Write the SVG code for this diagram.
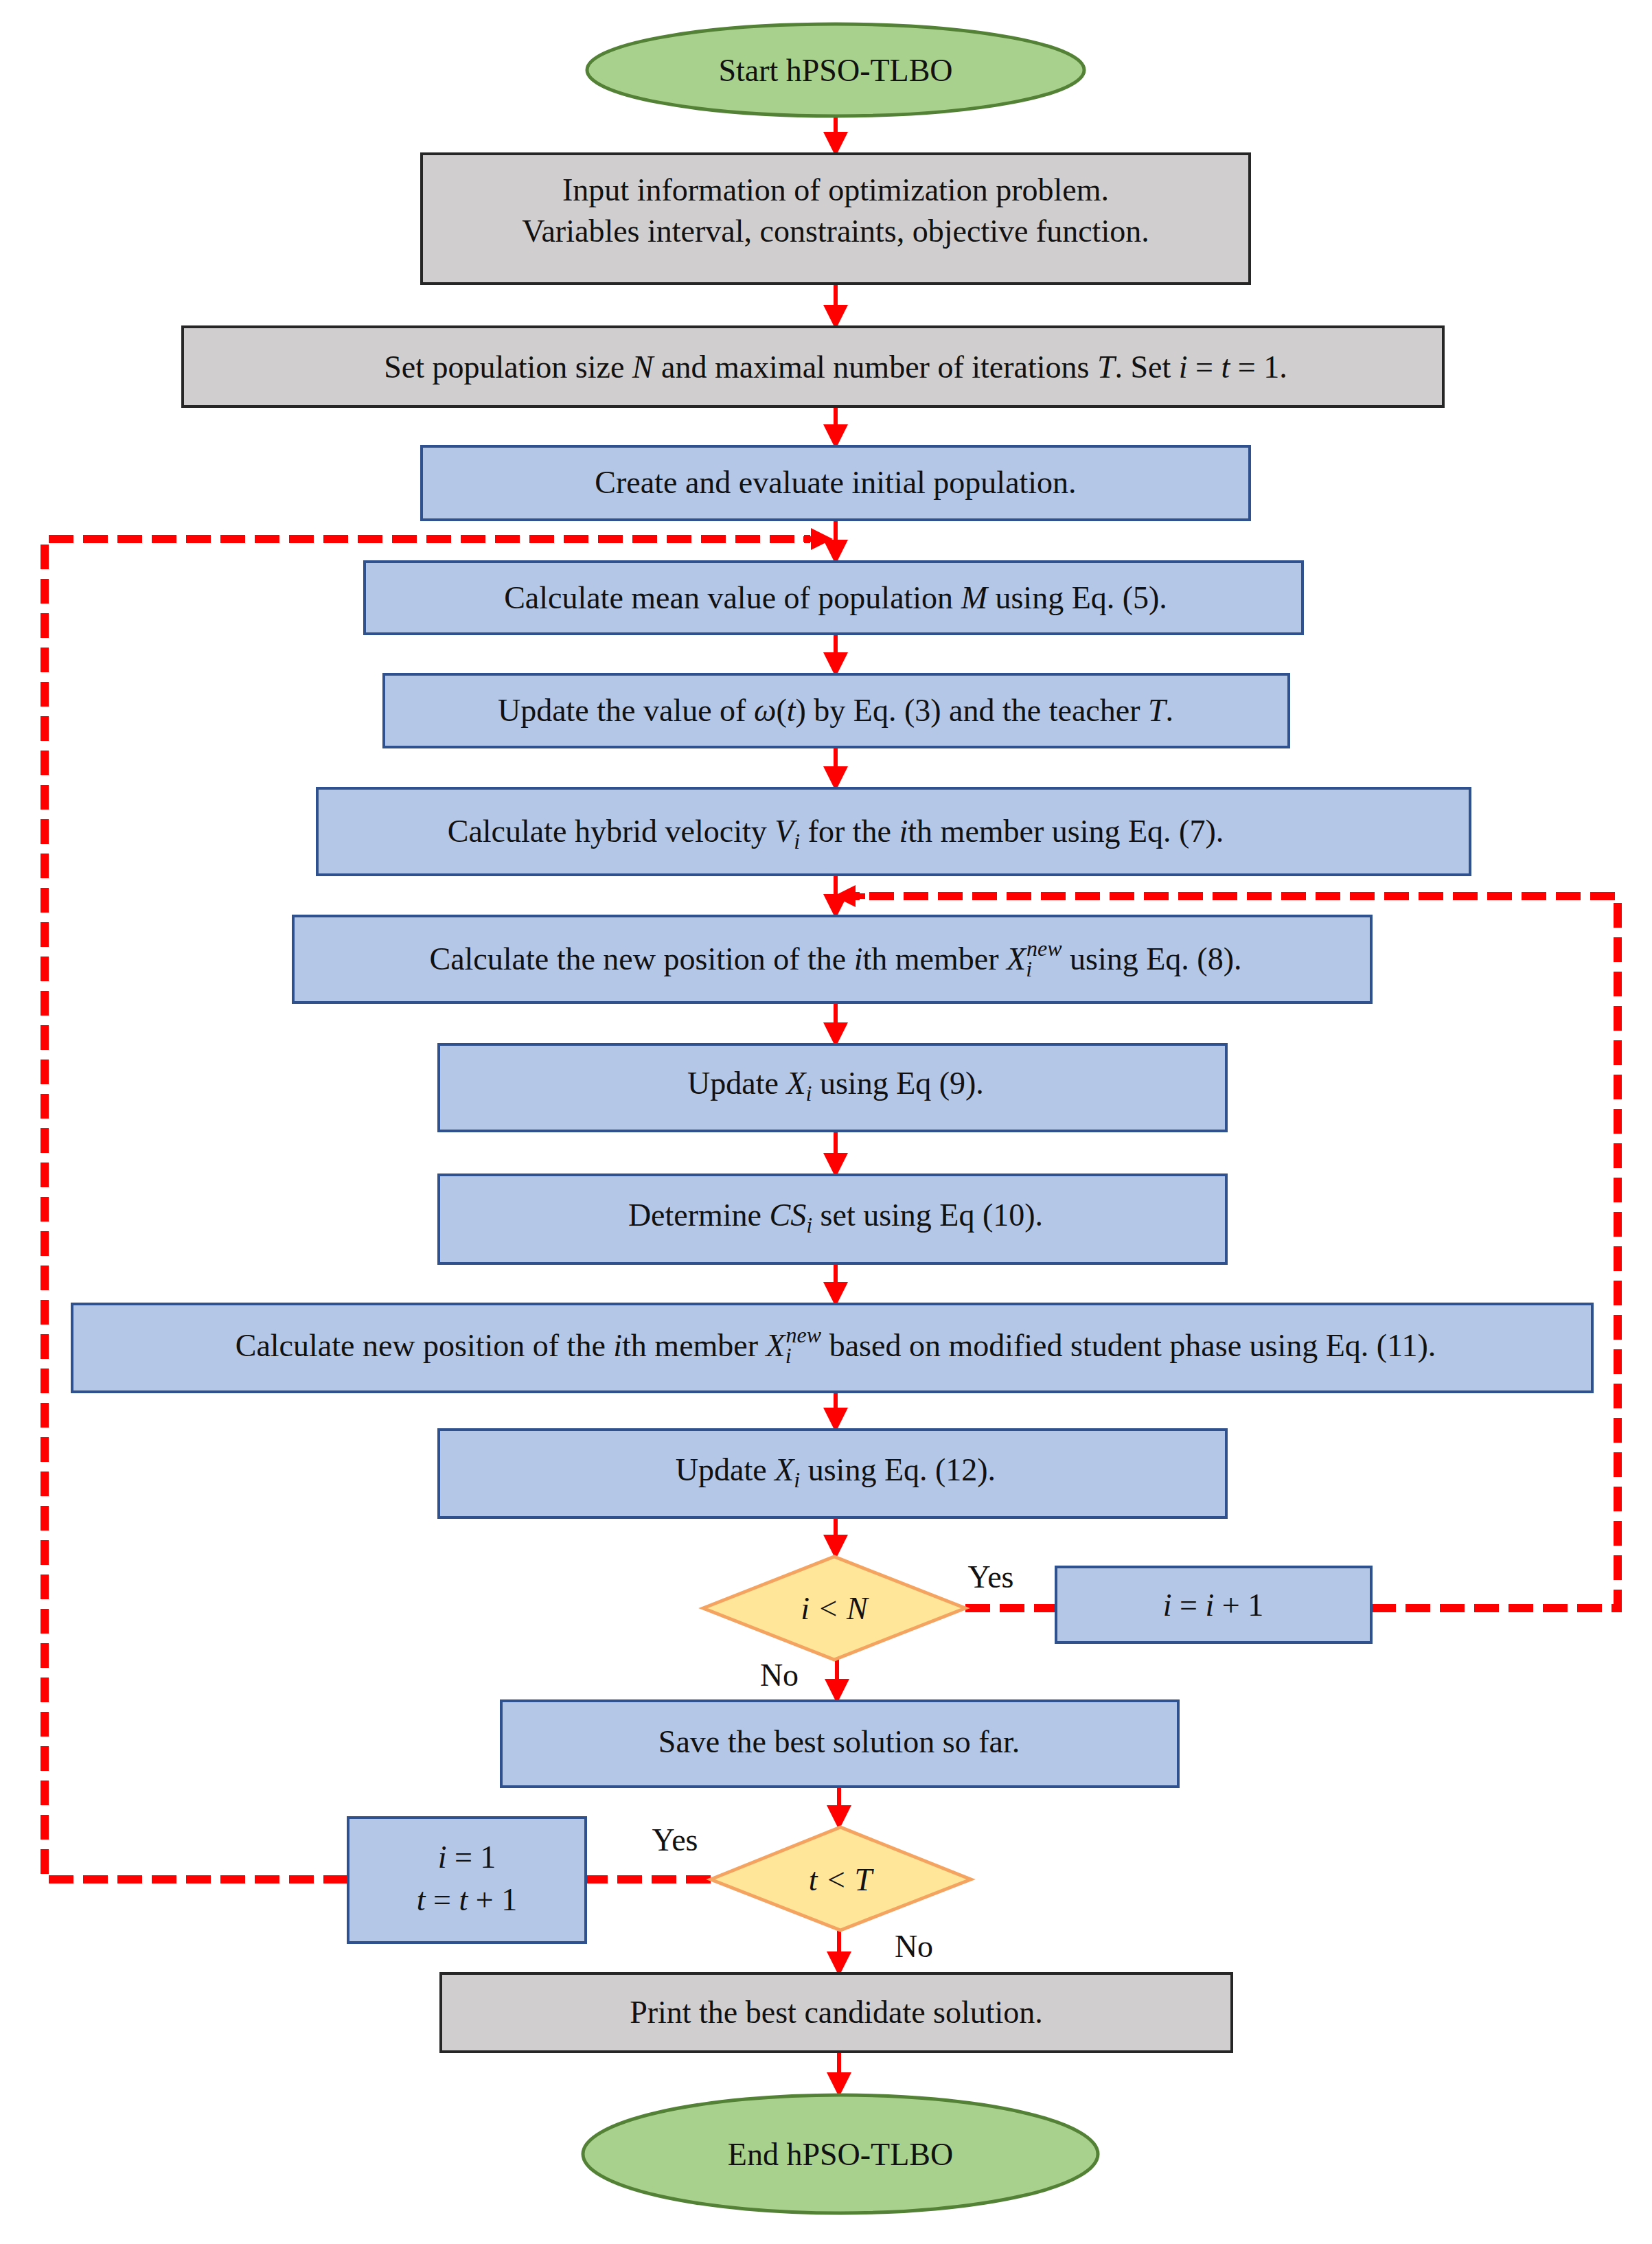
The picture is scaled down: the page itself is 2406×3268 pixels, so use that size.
<svg xmlns="http://www.w3.org/2000/svg" width="2406" height="3268" viewBox="0 0 2406 3268">
<style>
.b{fill:#b4c7e7;stroke:#2f528f;stroke-width:4}
.g{fill:#d0cece;stroke:#262626;stroke-width:4}
.e{fill:#a9d18e;stroke:#538135;stroke-width:5}
.d{fill:#ffe699;stroke:#f4a460;stroke-width:5}
text{font-family:"Liberation Serif","Times New Roman",serif;font-size:46px;fill:#111;text-anchor:middle}
.i{font-style:italic}
.s{font-size:32px}
.a{stroke:#ff0000;stroke-width:6;fill:none;marker-end:url(#ah)}
.dl{stroke:#ff0000;stroke-width:12;fill:none;stroke-dasharray:36 14}
</style>
<defs>
<marker id="ah" markerWidth="6" markerHeight="6" refX="5" refY="3" orient="auto" markerUnits="strokeWidth"><path d="M0,0L6,3L0,6z" fill="#ff0000"/></marker>
<marker id="ah2" markerWidth="4" markerHeight="4" refX="3" refY="2" orient="auto" markerUnits="strokeWidth"><path d="M0,0L4,2L0,4z" fill="#ff0000"/></marker>
</defs>
<g id="connectors">
<path class="a" d="M1217,170V222"/>
<path class="a" d="M1217,413V474"/>
<path class="a" d="M1217,592V648"/>
<path class="a" d="M1217,757V816"/>
<path class="a" d="M1217,923V980"/>
<path class="a" d="M1217,1088V1146"/>
<path class="a" d="M1217,1274V1332"/>
<path class="a" d="M1217,1460V1519"/>
<path class="a" d="M1217,1647V1709"/>
<path class="a" d="M1217,1840V1897"/>
<path class="a" d="M1217,2027V2080"/>
<path class="a" d="M1217,2210V2265"/>
<path class="a" d="M1219,2417V2475"/>
<path class="a" d="M1222,2602V2659"/>
<path class="a" d="M1222,2811V2872"/>
<path class="a" d="M1222,2988V3048"/>
<path class="dl" d="M1406,2342H1538"/>
<path class="dl" d="M1997,2342H2356V1305H1240"/>
<path d="M1260,1305H1222" stroke="#ff0000" stroke-width="8" marker-end="url(#ah2)"/>
<path class="dl" d="M1035,2737H853"/>
<path class="dl" d="M507,2737H65V785H1180"/>
<path d="M1170,785H1205" stroke="#ff0000" stroke-width="8" marker-end="url(#ah2)"/>
<text x="1443" y="2312">Yes</text>
<text x="1135" y="2455">No</text>
<text x="983" y="2695">Yes</text>
<text x="1331" y="2850">No</text>
</g>
<g id="start"><ellipse class="e" cx="1217" cy="102" rx="362" ry="67"/><text x="1217" y="118">Start hPSO-TLBO</text></g>
<g id="input"><rect class="g" x="614" y="224" width="1206" height="189"/><text x="1217" y="292">Input information of optimization problem.</text><text x="1217" y="352">Variables interval, constraints, objective function.</text></g>
<g id="set"><rect class="g" x="266" y="476" width="1836" height="116"/><text x="1217" y="550">Set population size <tspan class="i">N</tspan> and maximal number of iterations <tspan class="i">T</tspan>. Set  <tspan class="i">i</tspan> = <tspan class="i">t</tspan> = 1.</text></g>
<g id="create"><rect class="b" x="614" y="650" width="1206" height="107"/><text x="1217" y="718">Create and evaluate initial population.</text></g>
<g id="mean"><rect class="b" x="531" y="818" width="1366" height="105"/><text x="1217" y="886">Calculate mean value of population <tspan class="i">M</tspan> using Eq. (5).</text></g>
<g id="omega"><rect class="b" x="559" y="982" width="1318" height="106"/><text x="1217" y="1050">Update the value of  <tspan class="i">ω</tspan>(<tspan class="i">t</tspan>) by Eq. (3) and the teacher <tspan class="i">T</tspan>.</text></g>
<g id="hybrid"><rect class="b" x="462" y="1148" width="1679" height="126"/><text x="1217" y="1226">Calculate hybrid velocity <tspan class="i">V</tspan><tspan class="i s" dy="10">i</tspan><tspan dy="-10"> for the </tspan><tspan class="i">i</tspan>th member using Eq. (7).</text></g>
<g id="newpos"><rect class="b" x="427" y="1334" width="1570" height="126"/><text x="1217" y="1412">Calculate the new position of the <tspan class="i">i</tspan>th member <tspan class="i">X</tspan><tspan class="i s" dy="10">i</tspan><tspan class="i s" dx="-8" dy="-30">new</tspan><tspan dy="20"> using Eq. (8).</tspan></text></g>
<g id="upd9"><rect class="b" x="639" y="1521" width="1147" height="126"/><text x="1217" y="1593">Update <tspan class="i">X</tspan><tspan class="i s" dy="10">i</tspan><tspan dy="-10"> using Eq (9).</tspan></text></g>
<g id="det"><rect class="b" x="639" y="1711" width="1147" height="129"/><text x="1217" y="1785">Determine <tspan class="i">CS</tspan><tspan class="i s" dy="10">i</tspan><tspan dy="-10"> set using Eq (10).</tspan></text></g>
<g id="calc11"><rect class="b" x="105" y="1899" width="2214" height="128"/><text x="1217" y="1975">Calculate new position of the <tspan class="i">i</tspan>th member <tspan class="i">X</tspan><tspan class="i s" dy="10">i</tspan><tspan class="i s" dx="-8" dy="-30">new</tspan><tspan dy="20"> based on modified student phase using Eq. (11).</tspan></text></g>
<g id="upd12"><rect class="b" x="639" y="2082" width="1147" height="128"/><text x="1217" y="2156">Update <tspan class="i">X</tspan><tspan class="i s" dy="10">i</tspan><tspan dy="-10"> using Eq. (12).</tspan></text></g>
<g id="dN"><path class="d" d="M1024,2342L1215,2267L1406,2342L1215,2417Z"/><text x="1215" y="2358" class="i">i &lt; N</text></g>
<g id="inc"><rect class="b" x="1538" y="2282" width="459" height="110"/><text x="1767" y="2353"><tspan class="i">i</tspan> = <tspan class="i">i</tspan> + 1</text></g>
<g id="save"><rect class="b" x="730" y="2477" width="986" height="125"/><text x="1222" y="2552">Save the best solution so far.</text></g>
<g id="reset"><rect class="b" x="507" y="2647" width="346" height="182"/><text x="680" y="2720"><tspan class="i">i</tspan> = 1</text><text x="680" y="2782"><tspan class="i">t</tspan> = <tspan class="i">t</tspan> + 1</text></g>
<g id="dT"><path class="d" d="M1035,2737L1224,2661L1414,2737L1224,2811Z"/><text x="1224" y="2753" class="i">t &lt; T</text></g>
<g id="print"><rect class="g" x="642" y="2874" width="1152" height="114"/><text x="1218" y="2946">Print the best candidate solution.</text></g>
<g id="end"><ellipse class="e" cx="1224" cy="3137" rx="375" ry="86"/><text x="1224" y="3153">End hPSO-TLBO</text></g>
</svg>
